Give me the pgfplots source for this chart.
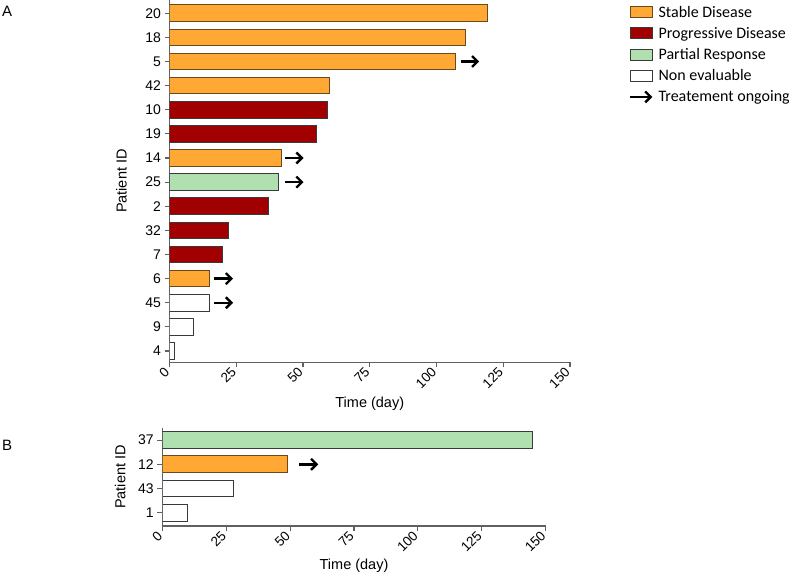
\documentclass[border=0pt]{standalone}
\usepackage{pgfplots}
\pgfplotsset{compat=1.18}
\usepackage{fontspec}
\setmainfont{Liberation Sans}
\newfontfamily\carlito{Carlito}
\usetikzlibrary{arrows.meta}
\definecolor{sd}{HTML}{FFA833}
\definecolor{pd}{HTML}{A00000}
\definecolor{pr}{HTML}{B0E0B0}
\definecolor{edge}{HTML}{3A3A3A}
\definecolor{sdedge}{HTML}{6A4A1A}
\definecolor{axc}{HTML}{606060}
\pgfplotsset{
  swim/.style={
    scale only axis,
    axis x line*=bottom, axis y line*=left,
    axis line style={axc, line width=1.2pt},
    tick style={axc, line width=1.1pt},
    tick align=outside, major tick length=5pt,
    xmin=0, xmax=150, xtick={0,25,...,150},
    /pgf/number format/assume math mode=true,
    xticklabel style={font=\fontsize{13.5}{15}\selectfont, rotate=45, anchor=east},
    yticklabel style={font=\fontsize{14}{16}\selectfont},
    label style={font=\fontsize{14.5}{16}\selectfont},
    bar width=16.7pt,
    xlabel={Time (day)},
    ylabel={Patient ID},
  },
  b/.style={xbar, bar shift=0pt, draw=edge, line width=1pt,
    legend image code/.code={\draw[##1, line width=1pt] (0pt,-5.5pt) rectangle (22pt,5.5pt);}},
  arr/.style={quiver={u=\thisrow{u}, v=0}, -{Straight Barb[length=5.5pt,width=11pt]}, line width=2.4pt, black,
    legend image code/.code={\draw[line width=2.4pt, -{Straight Barb[length=5.5pt,width=11pt]}] (0pt,0pt) -- (22pt,0pt);}},
}
\begin{document}
\begin{tikzpicture}
\useasboundingbox (0pt,0pt) rectangle (789pt,-574pt);
\node[anchor=north west, inner sep=0pt, font=\fontsize{15}{17}\selectfont] at (2pt,-6pt) {A};
\node[anchor=north west, inner sep=0pt, font=\fontsize{15}{17}\selectfont] at (2pt,-440pt) {B};
% Panel A: y index 0..14 = patients 4,9,45,6,7,32,2,25,14,19,10,42,5,18,20
\begin{axis}[swim,
  at={(169.5pt,-362.3pt)}, anchor=south west,
  width=400.5pt, height=362.3pt,
  ymin=-0.47, ymax=14.55,
  ytick={0,...,14},
  yticklabels={4,9,45,6,7,32,2,25,14,19,10,42,5,18,20},
  xlabel style={at={(axis description cs:0.5,0)}, anchor=center, yshift=-41pt},
  ylabel style={at={(axis description cs:-0.12,0.5)}, anchor=center},
  legend style={at={(axis description cs:1.1473,0.987)}, anchor=north west, draw=none, fill=none,
    font=\carlito\fontsize{16}{18}\selectfont, inner sep=0pt, row sep=6.6pt,
    nodes={inner sep=1pt},
    /tikz/every odd column/.append style={column sep=4pt}},
  legend cell align=left,
]
\addplot[b, fill=sd, draw=sdedge] coordinates {(119,14) (111,13) (107,12) (60,11) (42,8) (15,3)};
\addlegendentry{Stable Disease}
\addplot[b, fill=pd] coordinates {(59,10) (55,9) (37,6) (22,5) (20,4)};
\addlegendentry{Progressive Disease}
\addplot[b, fill=pr] coordinates {(41,7)};
\addlegendentry{Partial Response}
\addplot[b, fill=white] coordinates {(15,2) (9,1) (2,0)};
\addlegendentry{Non evaluable}
\addplot[arr] table {
x y u
109 12 7
43.2 8 7
43.2 7 7
16.8 3 7
16.8 2 7
};
\addlegendentry{Treatement ongoing}
\end{axis}
% Panel B: y index 0..3 = patients 1,43,12,37
\begin{axis}[swim,
  at={(162.3pt,-526pt)}, anchor=south west,
  width=383.4pt, height=98pt,
  ymin=-0.55, ymax=3.5,
  ytick={0,...,3},
  yticklabels={1,43,12,37},
  xlabel style={at={(axis description cs:0.5,0)}, anchor=center, yshift=-40pt},
  ylabel style={at={(axis description cs:-0.11,0.5)}, anchor=center},
]
\addplot[b, fill=pr] coordinates {(145,3)};
\addplot[b, fill=sd, draw=sdedge] coordinates {(49,2)};
\addplot[b, fill=white] coordinates {(28,1) (10,0)};
\addplot[arr] table {
x y u
53.5 2 7.5
};
\end{axis}
\end{tikzpicture}
\end{document}
